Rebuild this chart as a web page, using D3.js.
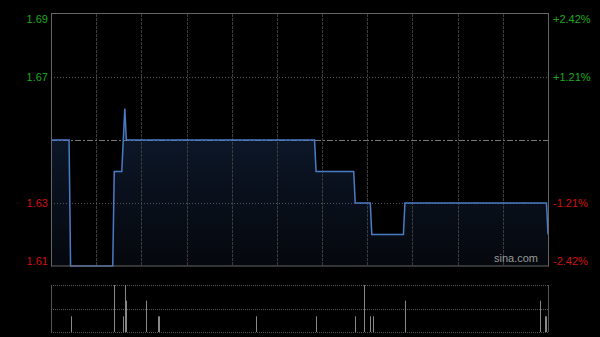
<!DOCTYPE html>
<html>
<head>
	<script src="https://d3js.org/d3.v7.min.js"></script>
	<style>
		body { margin: 0; background: #000; }
		text { font-family: "Liberation Sans", Arial, sans-serif; }
	</style>
</head>
<body>
	<div class="chart"></div>
	<script>
		// price steps (time, price) and minute volumes
		var prevClose = 1.65;
		var times  = ["09:30","09:42","09:43","10:11","10:12","10:17","10:19","10:20","13:25","13:26","13:51","13:52","14:02","14:03","14:24","14:25","15:59","16:00"];
		var prices = [1.65, 1.65, 1.61, 1.61, 1.64, 1.64, 1.66, 1.65, 1.65, 1.64, 1.64, 1.63, 1.63, 1.62, 1.62, 1.63, 1.63, 1.62];
		var volTimes = ["09:43","10:12","10:18","10:19","10:20","10:33","10:41","10:42","11:46","13:26","13:52","13:58","14:02","14:04","14:25","15:55","15:58","15:59"];
		var volumes  = [2000, 6000, 2000, 6000, 4000, 4000, 2000, 2000, 2000, 2000, 2000, 6000, 2000, 2000, 4000, 4000, 2000, 2000];
		var priceTicks = [1.61, 1.63, 1.67, 1.69];

		var w = 600, h = 337;
		var padL = 51, padR = 548, padT = 14, padB = 266;
		var vTop = 285, vBottom = 332;

		function minute(t) {
			var p = t.split(":"), m = (+p[0]) * 60 + (+p[1]) - 570;
			return m > 150 ? m - 60 : m;
		}

		var svg = d3.select(".chart").append("svg")
			.attr("width", w).attr("height", h)
			.style("background", "#000");

		var x = d3.scaleLinear().domain([0, 330]).range([padL, padR]);
		var y = d3.scaleLinear().domain([1.61, 1.69]).range([padB, padT]);
		var yv = d3.scaleLinear().domain([0, 6000]).range([vBottom, vTop]);

		var defs = svg.append("defs");
		var grad = defs.append("linearGradient").attr("id", "fill")
			.attr("x1", 0).attr("y1", 0).attr("x2", 0).attr("y2", 1);
		grad.append("stop").attr("offset", "0%").attr("stop-color", "#0e1a2e");
		grad.append("stop").attr("offset", "100%").attr("stop-color", "#05080d");

		var pts = times.map(function(t, i) { return [minute(t), prices[i]]; });

		// area
		svg.append("path")
			.datum(pts)
			.attr("fill", "url(#fill)")
			.attr("d", d3.area()
				.x(function(d) { return x(d[0]); })
				.y0(padB)
				.y1(function(d) { return y(d[1]); }));

		// vertical grid
		var g = svg.append("g");
		d3.range(30, 330, 30).forEach(function(m) {
			g.append("line")
				.attr("x1", Math.round(x(m)) + 0.5).attr("x2", Math.round(x(m)) + 0.5)
				.attr("y1", padT).attr("y2", padB)
				.attr("stroke", "#3c3c3c").attr("stroke-dasharray", "3,1");
		});
		// horizontal grid
		[1.63, 1.67].forEach(function(p) {
			g.append("line")
				.attr("x1", padL).attr("x2", padR)
				.attr("y1", Math.round(y(p)) + 0.5).attr("y2", Math.round(y(p)) + 0.5)
				.attr("stroke", "#555").attr("stroke-dasharray", "1,2");
		});
		g.append("line")
			.attr("x1", padL).attr("x2", padR)
			.attr("y1", Math.round(y(prevClose)) + 0.5).attr("y2", Math.round(y(prevClose)) + 0.5)
			.attr("stroke", "#777").attr("stroke-dasharray", "6,2,2,2");

		// price line
		svg.append("path")
			.datum(pts)
			.attr("fill", "none")
			.attr("stroke", "#4b7bc6")
			.attr("stroke-width", 1.5)
			.attr("d", d3.line()
				.x(function(d) { return x(d[0]); })
				.y(function(d) { return y(d[1]); }));

		// frame
		svg.append("rect")
			.attr("x", padL + 0.5).attr("y", padT - 0.5)
			.attr("width", padR - padL).attr("height", padB - padT + 0.5)
			.attr("fill", "none").attr("stroke", "#666");

		// tick labels
		priceTicks.forEach(function(p) {
			var ty = y(p);
			if (p === 1.69) ty += 5;
			if (p === 1.61) ty -= 5;
			var up = p > prevClose;
			var col = up ? "#1ea81e" : "#d01010";
			svg.append("text")
				.attr("x", padL - 3).attr("y", ty).attr("dy", "0.35em")
				.attr("text-anchor", "end").attr("font-size", 11)
				.attr("fill", col).text(p.toFixed(2));
			var pct = (p - prevClose) / prevClose * 100;
			svg.append("text")
				.attr("x", padR + 5).attr("y", ty).attr("dy", "0.35em")
				.attr("font-size", 11).attr("fill", col)
				.text((pct > 0 ? "+" : "") + pct.toFixed(2) + "%");
		});

		svg.append("text")
			.attr("x", padR - 10).attr("y", padB - 4)
			.attr("text-anchor", "end").attr("font-size", 11)
			.attr("fill", "#999").text("sina.com");

		// volume panel
		var v = svg.append("g");
		[vTop, (vTop + vBottom) / 2, vBottom].forEach(function(yy) {
			v.append("line")
				.attr("x1", padL).attr("x2", padR)
				.attr("y1", Math.round(yy) + 0.5).attr("y2", Math.round(yy) + 0.5)
				.attr("stroke", "#555").attr("stroke-dasharray", "1,1");
		});
		[padL, padR].forEach(function(xx) {
			v.append("line")
				.attr("x1", xx + 0.5).attr("x2", xx + 0.5)
				.attr("y1", vTop).attr("y2", vBottom)
				.attr("stroke", "#555");
		});
		v.selectAll(".vol")
			.data(volTimes.map(function(t, i) { return [minute(t), volumes[i]]; }))
			.enter().append("line")
			.attr("class", "vol")
			.attr("x1", function(d) { return Math.round(x(d[0])) + 0.5; })
			.attr("x2", function(d) { return Math.round(x(d[0])) + 0.5; })
			.attr("y1", vBottom)
			.attr("y2", function(d) { return yv(d[1]); })
			.attr("stroke", "#888");
	</script>
</body>
</html>
